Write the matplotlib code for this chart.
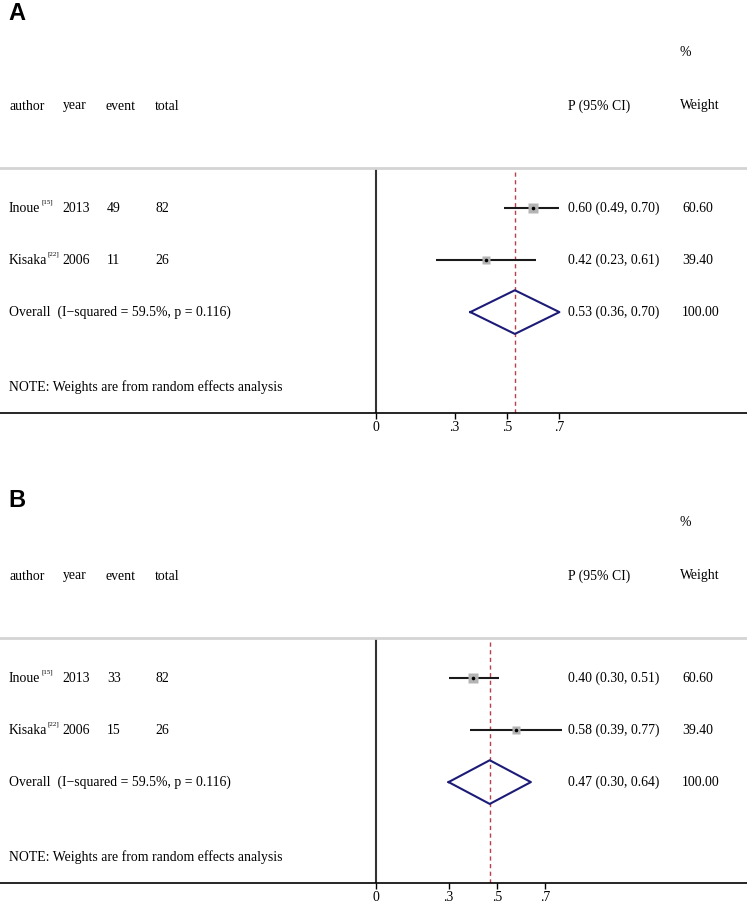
import matplotlib
matplotlib.use("Agg")
import matplotlib.pyplot as plt
import matplotlib.transforms as mtransforms

W, H = 747, 906

# data
authors = ['Inoue', 'Kisaka']
refs = ['[15]', '[22]']
years = ['2013', '2006']
totals = [82, 26]
weights = [60.60, 39.40]
ticks = [0, 0.3, 0.5, 0.7]
tick_labels = ['0', '.3', '.5', '.7']

events_a = [49, 11]
est_a = [0.60, 0.42]
lo_a = [0.49, 0.23]
hi_a = [0.70, 0.61]
overall_a = [0.53, 0.36, 0.70]

events_b = [33, 15]
est_b = [0.40, 0.58]
lo_b = [0.30, 0.39]
hi_b = [0.51, 0.77]
overall_b = [0.47, 0.30, 0.64]

het_text = 'Overall  (I\u2212squared = 59.5%, p = 0.116)'
note_text = 'NOTE: Weights are from random effects analysis'

plt.rcParams['font.family'] = ['Liberation Serif', 'DejaVu Serif']
FS = 9.9

fig = plt.figure(figsize=(W / 100, H / 100), dpi=100)


def fx(px):
    return px / W


def fy(py):
    return 1 - py / H


def panel(label, dy, events, est, lo, hi, overall, px_per_unit, label_y):
    top, bottom = 168 + dy, 413 + dy
    ax = fig.add_axes([0, fy(bottom), 1, (bottom - top) / H])
    ax.set_xlim(-376 / px_per_unit, (W - 376) / px_per_unit)
    ax.set_ylim(4.94, 0.23)
    for s in ['left', 'right']:
        ax.spines[s].set_visible(False)
    ax.spines['top'].set_color('#d4d4d4')
    ax.spines['top'].set_linewidth(2)
    ax.spines['bottom'].set_linewidth(1.2)
    ax.set_yticks([])
    ax.set_xticks(ticks)
    ax.set_xticklabels(tick_labels)
    ax.tick_params(axis='x', length=4, width=1, pad=2, labelsize=FS)

    ax.axvline(0, color='#333333', lw=1.5)
    ax.axvline(overall[0], color='#b8404a', lw=1, ls=(0, (3, 2.5)))

    rows = [1, 2]
    for i, r in enumerate(rows):
        ax.plot([lo[i], hi[i]], [r, r], color='#1a1a1a', lw=1.5, solid_capstyle='butt')
        ax.plot(est[i], r, marker='s', ms=0.85 * weights[i] ** 0.5, color='#b4b4b4', mec='none')
        ax.plot(est[i], r, marker='o', ms=2.6, color='black', mec='none')

    h = 0.42
    est0, lo0, hi0 = overall
    ax.plot([lo0, est0, hi0, est0, lo0], [3, 3 - h, 3, 3 + h, 3], color='#1c1c78', lw=1.5)

    # text columns
    tr = mtransforms.blended_transform_factory(fig.transFigure, ax.transData)
    fig.text(fx(8), fy(label_y), label, fontsize=17, fontweight='bold',
             family=['Liberation Sans', 'DejaVu Sans'], va='center', ha='left')
    fig.text(fx(680), fy(53 + dy), '%', fontsize=FS, va='center')
    for x, t in [(9, 'author'), (63, 'year'), (106, 'event'), (155, 'total'),
                 (568, 'P (95% CI)'), (680, 'Weight')]:
        fig.text(fx(x), fy(106 + dy), t, fontsize=FS, va='center')

    sup_x = [42, 48]
    for i, r in enumerate(rows):
        ax.text(fx(9), r, authors[i], transform=tr, fontsize=FS, va='center')
        sup_tr = mtransforms.offset_copy(tr, fig=fig, x=0, y=4.5, units='points')
        ax.text(fx(sup_x[i]), r, refs[i], transform=sup_tr, fontsize=5, va='center')
        ax.text(fx(62), r, years[i], transform=tr, fontsize=FS, va='center')
        ax.text(fx(107), r, str(events[i]), transform=tr, fontsize=FS, va='center')
        ax.text(fx(155), r, str(totals[i]), transform=tr, fontsize=FS, va='center')
        ax.text(fx(568), r, f'{est[i]:.2f} ({lo[i]:.2f}, {hi[i]:.2f})', transform=tr,
                fontsize=FS, va='center')
        ax.text(fx(682), r, f'{weights[i]:.2f}', transform=tr, fontsize=FS, va='center')

    ax.text(fx(9), 3, het_text, transform=tr, fontsize=FS, va='center')
    ax.text(fx(568), 3, f'{est0:.2f} ({lo0:.2f}, {hi0:.2f})', transform=tr,
            fontsize=FS, va='center')
    ax.text(fx(682), 3, '100.00', transform=tr, fontsize=FS, va='center')
    ax.text(fx(9), 4.45, note_text, transform=tr, fontsize=FS, va='center')
    return ax


panel('A', 0, events_a, est_a, lo_a, hi_a, overall_a, 262, 14)
panel('B', 470, events_b, est_b, lo_b, hi_b, overall_b, 242, 500)

fig.savefig('out.png', dpi=100)
